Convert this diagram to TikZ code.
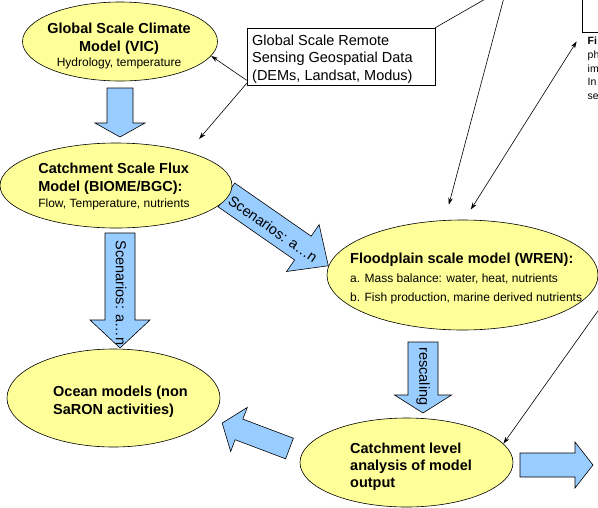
\documentclass[tikz,border=0pt]{standalone}
\usepackage{fontspec}
\setmainfont{Liberation Sans}
\usetikzlibrary{positioning}
\usetikzlibrary{shapes.geometric}
\usetikzlibrary{arrows.meta}
\definecolor{modelyellow}{HTML}{FFFF99}
\definecolor{flowblue}{HTML}{99CCFF}
\tikzset{
    every picture/.style={>={Stealth[length=7pt,width=4.5pt]},x=1pt,y=1pt},
    model/.style={ellipse,draw,fill=modelyellow,inner sep=0pt,line width=0.6pt},
    modeltext/.style={inner sep=0pt,font=\fontsize{14.5}{18}\selectfont\bfseries},
    bigarrow/.style={draw,fill=flowblue,line width=0.6pt},
    flowlabel/.style={font=\fontsize{14.5}{17}\selectfont,inner sep=0pt},
    pointer/.style={line width=0.6pt},
}
\newcommand{\notefont}{\fontsize{12}{15}\selectfont\mdseries}
% start, angle, length, half shaft, half head, head length
\newcommand{\blockarrow}[6]{%
  \begin{scope}[shift={#1},rotate=#2]
    \filldraw[bigarrow] (0,-#4) -- (#3-#6,-#4) -- (#3-#6,-#5) -- (#3,0)
      -- (#3-#6,#5) -- (#3-#6,#4) -- (0,#4) -- cycle;
  \end{scope}}

\begin{document}
\begin{tikzpicture}
\useasboundingbox (0,0) rectangle (598,-507);
\clip (0,0) rectangle (598,-507);

% block arrows
\blockarrow{(120,-88)}{-90}{49}{13}{25}{14}
\blockarrow{(120,-233)}{-90}{115}{15}{30}{28}
\blockarrow{(226.5,-195)}{-34.8}{124}{14.5}{28.5}{31}
\blockarrow{(423,-342)}{-90}{71}{15}{28.5}{18}
\blockarrow{(289.5,-448.5)}{159.3}{72}{11}{23.5}{18}
\blockarrow{(520,-465)}{0}{73}{12}{23}{18}

\node[flowlabel,rotate=-90] (scendown) at (121,-293) {Scenarios: a…n};
\node[flowlabel,rotate=-34.8] (scenside) at (273,-229) {Scenarios: a…n};
\node[flowlabel,rotate=-90] (rescale) at (423,-376.5) {rescaling};

% models
\node[model,minimum width=195pt,minimum height=79pt] (vic) at (120,-41.5) {};
\node[modeltext,align=center] (victext) at (119,-46)
  {Global Scale Climate\\Model (VIC)\\[-3pt]{\notefont Hydrology, temperature}};
\node[model,minimum width=232pt,minimum height=85pt] (biome) at (116,-185.5) {};
\node[modeltext,align=left] (biometext) at (114,-186)
  {Catchment Scale Flux\\Model (BIOME/BGC):\\[-2pt]{\notefont Flow, Temperature, nutrients}};
\node[model,minimum width=271pt,minimum height=110pt] (wren) at (462.5,-275) {};
\node[modeltext,align=left,anchor=north west] (wrentext) at (350,-253)
  {Floodplain scale model (WREN):\\[1pt]{\notefont a. Mass balance: water, heat, nutrients}\\[1pt]{\notefont b. Fish production, marine derived nutrients}};
\node[model,minimum width=213pt,minimum height=89pt] (catch) at (406.5,-462.5) {};
\node[modeltext,align=left,anchor=west,font=\fontsize{14.5}{17}\selectfont\bfseries]
  (catchtext) at (350,-467) {Catchment level\\analysis of model\\output};
\node[model,minimum width=213pt,minimum height=98pt] (ocean) at (113.5,-398) {};
\node[modeltext,align=left,anchor=west] (oceantext) at (53,-402)
  {Ocean models (non\\SaRON activities)};

% data box and cut figure
\node[draw,line width=0.6pt,minimum width=188pt,minimum height=57pt] (remote) at (341,-56.5) {};
\node[anchor=west,align=left,inner sep=0pt,font=\fontsize{14.5}{17.5}\selectfont]
  (remotetext) at (252,-59) {Global Scale Remote\\Sensing Geospatial Data\\(DEMs, Landsat, Modus)};
\node[draw,line width=0.6pt,minimum width=40pt,minimum height=60pt,anchor=south west,inner sep=0pt]
  (figbox) at (582,-33) {};
\node[anchor=north west,align=left,inner sep=0pt,font=\fontsize{10.5}{13.7}\selectfont]
  (caption) at (587.5,-37) {\textbf{Fi}\\ph\\im\\In\\se};

\coordinate (offA) at (501,10);
\coordinate (offB) at (506,10);
\coordinate (offC) at (605,-301);

\path[pointer]
([yshift=5pt]remote.south west) edge[->] (vic.-9)
([yshift=2pt]remote.south west) edge[->,shorten >=17pt] (biome.25)
(remote.north east) edge (offA)
(offB) edge[->,shorten >=16pt] (wren.108)
(figbox.south west) edge[<->,shorten <=10pt,shorten >=12pt] (wren.88)
(offC) edge[->] (catch.11)
;

\end{tikzpicture}
\end{document}
